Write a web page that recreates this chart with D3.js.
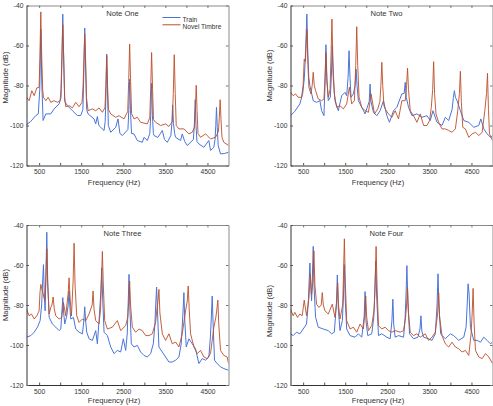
<!DOCTYPE html>
<html><head><meta charset="utf-8">
<script src="https://cdn.jsdelivr.net/npm/d3@7"></script>
<style>
body{margin:0;background:#fff}
svg{display:block}
text{font-family:"Liberation Sans",Arial,Helvetica,sans-serif;fill:#333}
</style>
</head><body>
<svg id="chart" width="493" height="406"></svg>
<script>
// ---- data (frequency in Hz, magnitude in dB) ----
const xDomain = [200, 5000];
const yDomain = [-120, -40];
const xTickValues = [500, 1000, 1500, 2000, 2500, 3000, 3500, 4000, 4500];
const xTickLabels = ["500", "", "1500", "", "2500", "", "3500", "", "4500"];
const yTickValues = [-120, -100, -80, -60, -40];
const yTickLabels = ["-120", "-100", "-80", "-60", "-40"];
const noteTitles = ["Note One", "Note Two", "Note Three", "Note Four"];
const seriesNames = ["Train", "Novel Timbre"];
const xLabel = "Frequency (Hz)";
const yLabel = "Magnitude (dB)";

const noteOneTrain = [[200,-99.5],[300,-98],[421,-95],[480,-94.2],[515,-82],[540,-51.8],[565,-80],[595,-97.5],[659,-94.2],[777,-94.2],[856,-91.7],[975,-89.2],[1020,-86],[1040,-70],[1062,-44.3],[1085,-68],[1110,-88],[1173,-90.1],[1291,-92.6],[1410,-95],[1489,-95],[1540,-92],[1562,-74],[1584,-51.3],[1606,-72],[1630,-92],[1663,-94.2],[1805,-96.7],[1845,-99.2],[1884,-95.5],[1920,-100],[1963,-100.9],[2043,-102.5],[2070,-98],[2088,-85],[2106,-64.3],[2124,-82],[2145,-100],[2201,-103.4],[2319,-100.9],[2375,-96.7],[2420,-104],[2478,-105],[2610,-102],[2632,-92],[2651,-76.9],[2670,-92],[2695,-104],[2754,-104.2],[2833,-107.5],[2952,-108.4],[2992,-105.9],[3071,-107.5],[3130,-104],[3152,-95],[3173,-78.9],[3192,-95],[3215,-104],[3229,-105],[3320,-106],[3427,-102.5],[3480,-107],[3545,-108.4],[3630,-105],[3655,-99],[3672,-89.7],[3692,-99],[3720,-104],[3743,-105.9],[3861,-107.5],[3901,-104.2],[3960,-108],[4020,-110],[4165,-107],[4190,-99],[4209,-87.1],[4228,-100],[4250,-108],[4296,-109.2],[4415,-110.9],[4533,-107.5],[4573,-112.5],[4652,-110.9],[4680,-107],[4698,-100],[4715,-90.9],[4733,-101],[4755,-110],[4810,-114.2],[4900,-114],[5000,-113.4]];
const noteOneNovel = [[200,-85.9],[263,-87.6],[327,-82.6],[382,-85.1],[445,-81.2],[500,-80.9],[518,-66],[540,-43.2],[562,-66],[585,-82],[603,-85.9],[659,-87.6],[714,-85.9],[777,-88.4],[856,-87.6],[935,-88.4],[1000,-87.6],[1020,-82],[1040,-66],[1062,-49.6],[1084,-66],[1105,-86],[1133,-90.6],[1212,-90.1],[1291,-91.2],[1370,-88.4],[1449,-90.6],[1520,-88.4],[1545,-80],[1562,-68],[1584,-54.3],[1606,-68],[1625,-86],[1663,-92.6],[1766,-91.7],[1845,-92.6],[1924,-91.2],[2003,-93.4],[2065,-91],[2086,-80],[2106,-65.1],[2126,-80],[2148,-92],[2201,-94.2],[2319,-95.9],[2398,-95.1],[2517,-96.7],[2605,-93],[2628,-78],[2651,-59.3],[2674,-78],[2698,-94],[2754,-96.7],[2833,-95.9],[2912,-98.4],[3071,-99.2],[3130,-96],[3150,-82],[3173,-63.5],[3196,-82],[3218,-97],[3268,-98.4],[3387,-100],[3506,-99.2],[3585,-100.5],[3665,-98],[3688,-84],[3711,-64.6],[3734,-84],[3758,-100],[3822,-101.7],[3941,-101.7],[4059,-104.2],[4138,-103.4],[4190,-101],[4212,-92],[4233,-79.9],[4254,-93],[4275,-104],[4336,-105.9],[4455,-104.2],[4573,-106.7],[4692,-105.9],[4760,-103],[4782,-96],[4802,-87.1],[4822,-97],[4845,-106],[4889,-108.4],[5000,-110]];

const noteTwoTrain = [[200,-95.1],[300,-93],[423,-89.2],[490,-84],[530,-76],[560,-62],[589,-44.3],[612,-64],[635,-76],[661,-80.1],[740,-87.6],[820,-88.4],[899,-87.6],[939,-92.6],[995,-95.1],[1020,-80],[1042,-59.6],[1064,-76],[1098,-87.6],[1146,-85.9],[1170,-76],[1193,-60.1],[1215,-76],[1257,-87.6],[1336,-92.6],[1416,-85.1],[1495,-83.4],[1535,-85.1],[1568,-76],[1591,-62.6],[1614,-76],[1638,-85.9],[1694,-84.2],[1735,-80],[1758,-71.8],[1781,-80],[1813,-87.6],[1893,-90.9],[1972,-94.2],[2070,-88],[2091,-79.3],[2112,-88],[2171,-93.4],[2250,-95.1],[2330,-92.6],[2409,-87.6],[2489,-95.1],[2552,-98.4],[2648,-92.6],[2727,-90.9],[2846,-84.2],[2900,-84],[2926,-78.4],[2952,-86],[3005,-90.9],[3085,-95.1],[3204,-94.2],[3323,-95.9],[3442,-95.1],[3522,-97.5],[3585,-92.6],[3681,-98.4],[3800,-100],[3879,-95.9],[3959,-97.5],[4040,-92],[4070,-86],[4094,-82.6],[4120,-86],[4158,-87.6],[4237,-92.6],[4317,-97.5],[4436,-98.4],[4555,-100.9],[4674,-100],[4722,-96.7],[4793,-101.7],[4873,-104.2],[4952,-105.9],[5000,-105]];
const noteTwoNovel = [[200,-83.4],[264,-85.1],[319,-84.2],[383,-85.9],[462,-85.9],[500,-80],[526,-66.8],[555,-68],[589,-51.8],[615,-70],[637,-80.9],[685,-84.2],[715,-80],[740,-73.4],[765,-80],[796,-82.6],[860,-86.7],[939,-87.6],[995,-86.7],[1020,-76],[1042,-63.5],[1064,-78],[1098,-85.9],[1140,-82],[1162,-66],[1185,-46.8],[1208,-68],[1241,-84.2],[1297,-90.9],[1376,-90.1],[1456,-91.7],[1535,-89.2],[1599,-80.9],[1654,-89.2],[1718,-87.6],[1750,-70],[1774,-50.6],[1798,-70],[1829,-85.9],[1893,-90.9],[1972,-92.6],[2052,-93.4],[2115,-84.2],[2195,-94.2],[2274,-91.7],[2325,-88],[2348,-80],[2370,-68.4],[2392,-80],[2420,-90],[2449,-91.7],[2528,-94.2],[2608,-95.9],[2687,-92.6],[2767,-96.7],[2846,-87.6],[2926,-87.6],[2958,-80],[2981,-71.3],[3004,-82],[3045,-92.6],[3124,-95.1],[3204,-98.4],[3283,-94.2],[3363,-100],[3442,-100],[3506,-97.5],[3546,-90.9],[3578,-82],[3601,-68.1],[3624,-84],[3657,-94.2],[3720,-98.4],[3800,-101.7],[3879,-101.7],[3959,-102.5],[4038,-103.4],[4118,-101.7],[4174,-92.6],[4214,-84],[4237,-72.9],[4260,-88],[4293,-100.9],[4356,-101.7],[4436,-105.9],[4515,-104.2],[4595,-103.4],[4674,-105],[4754,-103.4],[4817,-92.6],[4858,-84],[4881,-73.9],[4904,-92],[4928,-104.2],[5000,-107.5]];

const noteThreeTrain = [[200,-96.1],[303,-95.3],[382,-93.6],[461,-91.1],[524,-87.8],[560,-80],[580,-70],[603,-59.8],[625,-76],[643,-82.9],[660,-66],[682,-43.6],[704,-68],[738,-86.2],[817,-89.5],[896,-91.1],[975,-92.8],[1015,-92],[1040,-84],[1062,-76.3],[1084,-84],[1109,-89.5],[1157,-85.4],[1190,-80],[1212,-73],[1234,-82],[1252,-87],[1315,-86.2],[1370,-92],[1449,-93.6],[1529,-94.4],[1562,-88],[1584,-80.9],[1606,-88],[1631,-93.6],[1687,-96.9],[1766,-97.7],[1845,-92.8],[1884,-99.4],[1924,-87.8],[1965,-74],[1987,-61.4],[2009,-76],[2043,-93.6],[2122,-95.3],[2201,-101],[2280,-104.3],[2359,-102.7],[2438,-103.5],[2501,-96.9],[2557,-102.7],[2595,-94],[2615,-80],[2636,-64.7],[2657,-82],[2691,-99.4],[2754,-101],[2833,-100.2],[2912,-103.5],[2992,-105.2],[3071,-106],[3150,-104.3],[3213,-99.4],[3250,-90],[3270,-80],[3292,-71],[3314,-84],[3347,-101],[3427,-103.5],[3506,-106],[3585,-108.5],[3664,-108.5],[3743,-107.6],[3822,-106],[3877,-99.4],[3918,-84],[3940,-73.8],[3962,-88],[3996,-101],[4059,-96.9],[4138,-99.4],[4217,-101.9],[4296,-109.3],[4375,-106.8],[4455,-107.6],[4533,-106],[4570,-96],[4592,-86],[4613,-75.5],[4635,-90],[4668,-107.6],[4731,-109.3],[4810,-110.9],[4889,-111.8],[5000,-112.6]];
const noteThreeNovel = [[200,-82.1],[263,-85.4],[319,-84.5],[382,-87],[445,-85.4],[500,-82.9],[520,-74],[540,-69.7],[587,-73.8],[635,-77.9],[660,-68],[682,-51.9],[704,-70],[738,-84.5],[777,-81.2],[805,-80],[833,-76],[860,-82],[896,-85.4],[975,-87],[1038,-86.2],[1078,-78.8],[1133,-85.4],[1190,-74],[1212,-66.4],[1234,-76],[1268,-85.4],[1308,-68],[1331,-49.1],[1354,-70],[1394,-85.4],[1449,-88.7],[1529,-87],[1608,-87.8],[1687,-84.5],[1760,-80],[1782,-73],[1804,-82],[1845,-87.8],[1924,-89.5],[1960,-82],[1981,-68],[2003,-53.2],[2025,-70],[2058,-87.8],[2122,-92],[2240,-91.1],[2359,-87.8],[2438,-92.8],[2557,-90.3],[2607,-86],[2629,-78],[2651,-68],[2673,-80],[2715,-91.1],[2794,-93.6],[2873,-92],[2952,-92.8],[3031,-95.3],[3110,-95.3],[3189,-94.4],[3268,-88.7],[3300,-82],[3325,-78],[3347,-72.2],[3370,-84],[3427,-94.4],[3506,-97.7],[3585,-94.4],[3664,-99.4],[3743,-98.5],[3822,-101],[3901,-94.4],[3980,-82.9],[4020,-78],[4043,-70.5],[4066,-82],[4099,-94.4],[4178,-101],[4257,-104.3],[4336,-102.7],[4415,-106],[4494,-106.8],[4573,-104.3],[4652,-91.1],[4700,-86],[4725,-82],[4747,-77.6],[4770,-90],[4810,-102.7],[4889,-105.2],[4968,-106],[5000,-109.3]];

const noteFourTrain = [[200,-94.4],[264,-95.3],[343,-93.6],[423,-94.4],[502,-92],[581,-89.5],[621,-79.6],[661,-59],[690,-74],[701,-77.9],[720,-66],[740,-50.7],[762,-72],[796,-86.2],[860,-91.1],[979,-92],[1098,-92.8],[1177,-94.4],[1241,-93.6],[1290,-80],[1313,-65],[1336,-82],[1376,-92.8],[1432,-87.8],[1458,-76],[1480,-59.8],[1502,-78],[1535,-92],[1615,-95.3],[1734,-96.1],[1813,-94.4],[1893,-96.1],[1950,-86],[1972,-73.3],[1994,-88],[2036,-95.3],[2131,-94.4],[2180,-86],[2204,-74],[2226,-58.1],[2248,-76],[2290,-95.3],[2370,-94.4],[2489,-96.1],[2568,-96.9],[2610,-88],[2632,-77.1],[2654,-90],[2687,-96.1],[2767,-95.3],[2886,-96.1],[2920,-88],[2944,-76],[2966,-60.3],[2988,-78],[3029,-94.4],[3124,-96.9],[3228,-96.1],[3277,-92],[3299,-85.4],[3321,-93],[3363,-96.1],[3482,-96.9],[3562,-97.7],[3641,-94.4],[3683,-80],[3705,-64.4],[3727,-80],[3768,-94.4],[3879,-96.9],[3999,-94.4],[4078,-95.3],[4197,-97.7],[4317,-96.1],[4372,-91.1],[4398,-80],[4420,-69.4],[4442,-74],[4476,-91.1],[4555,-97.7],[4634,-97.7],[4714,-98.6],[4793,-96.1],[4873,-97.7],[4952,-99.4],[5000,-98.6]];
const noteFourNovel = [[200,-82.1],[264,-85.4],[303,-83.7],[367,-86.2],[423,-84.5],[478,-85.4],[526,-77.6],[581,-85.4],[640,-76],[669,-64.7],[700,-75],[733,-68],[756,-52.9],[780,-70],[820,-79.6],[876,-81.2],[930,-80],[955,-73.8],[980,-80],[1019,-82.9],[1098,-84.5],[1193,-79.6],[1257,-86.2],[1300,-78],[1321,-68.9],[1342,-80],[1376,-87],[1440,-80],[1460,-64],[1480,-46.9],[1502,-68],[1535,-87.8],[1615,-92],[1694,-91.1],[1774,-93.6],[1853,-89.5],[1932,-92],[1966,-84],[1988,-75.5],[2010,-86],[2052,-92.8],[2131,-90.3],[2188,-82],[2212,-68],[2234,-50.7],[2256,-70],[2290,-90.3],[2370,-92],[2449,-91.1],[2528,-92.8],[2608,-93.6],[2687,-92.8],[2807,-93.6],[2886,-92.8],[2935,-86],[2959,-80],[2981,-71],[3003,-84],[3045,-93.6],[3124,-95.3],[3204,-94.4],[3283,-96.1],[3403,-94.4],[3482,-97.7],[3562,-96.1],[3641,-93.6],[3698,-84],[3720,-73.8],[3742,-86],[3800,-95.3],[3879,-99.4],[3959,-101],[4038,-98.6],[4118,-101],[4197,-101.9],[4277,-103.5],[4356,-102.7],[4436,-105.2],[4491,-94.4],[4517,-84],[4539,-71.7],[4561,-88],[4595,-102.7],[4674,-106],[4754,-106.8],[4833,-104.3],[4913,-106],[5000,-109.3]];

// ---- layout / style ----
const colors = {train: "#4a74d8", novel: "#bd4f29"};
const W = 202, H = 160;
const panels = [
  {title: noteTitles[0], train: noteOneTrain, novel: noteOneNovel, left: 26, top: 5, ylabCy: 72, legend: true},
  {title: noteTitles[1], train: noteTwoTrain, novel: noteTwoNovel, left: 290, top: 5, ylabCy: 70, legend: false},
  {title: noteTitles[2], train: noteThreeTrain, novel: noteThreeNovel, left: 26, top: 224.5, ylabCy: 70, legend: false},
  {title: noteTitles[3], train: noteFourTrain, novel: noteFourNovel, left: 290, top: 224.5, ylabCy: 86, legend: false}
];

const svg = d3.select("#chart");
const x = d3.scaleLinear().domain(xDomain).range([0, W]);
const y = d3.scaleLinear().domain(yDomain).range([H, 0]);
const line = d3.line().x(d => x(d[0])).y(d => y(d[1]));

panels.forEach((p, idx) => {
  const g = svg.append("g").attr("transform", `translate(${p.left + 0.5},${p.top + 0.5})`);
  const clipId = "clip" + idx;
  g.append("clipPath").attr("id", clipId).append("rect").attr("width", W).attr("height", H);

  const lines = g.append("g").attr("clip-path", `url(#${clipId})`);
  lines.append("path").datum(p.train).attr("d", line)
    .attr("fill", "none").attr("stroke", colors.train).attr("stroke-width", 1);
  lines.append("path").datum(p.novel).attr("d", line)
    .attr("fill", "none").attr("stroke", colors.novel).attr("stroke-width", 1).attr("stroke-opacity", 0.9);

  const xb = g.append("g").attr("transform", `translate(0,${H})`)
    .call(d3.axisBottom(x).tickValues(xTickValues).tickSizeInner(-2.5).tickSizeOuter(0).tickPadding(4)
      .tickFormat((d, i) => xTickLabels[i]));
  const xt = g.append("g")
    .call(d3.axisTop(x).tickValues(xTickValues).tickSizeInner(-2.5).tickSizeOuter(0).tickFormat(""));
  const yl = g.append("g")
    .call(d3.axisLeft(y).tickValues(yTickValues).tickSizeInner(-2.5).tickSizeOuter(0).tickPadding(3)
      .tickFormat((d, i) => yTickLabels[i]));
  const yr = g.append("g").attr("transform", `translate(${W},0)`)
    .call(d3.axisRight(y).tickValues(yTickValues).tickSizeInner(-2.5).tickSizeOuter(0).tickFormat(""));

  [xb, yl].forEach(a => { a.select(".domain").attr("stroke", "#333"); a.selectAll(".tick line").attr("stroke", "#555"); });
  [xt, yr].forEach(a => { a.select(".domain").attr("stroke", "#8a8a8a"); a.selectAll(".tick line").attr("stroke", "#777"); });
  g.selectAll(".tick text").style("font-size", "6.7px").attr("fill", "#333")
    .style("font-family", '"Liberation Sans", Arial, sans-serif');

  g.append("text").attr("x", 96).attr("y", 10.5).attr("text-anchor", "middle")
    .style("font-size", "7.6px").text(p.title);
  g.append("text").attr("x", 87.5).attr("y", H + (p.top > 100 ? 18.3 : 19)).attr("text-anchor", "middle")
    .style("font-size", "7.6px").text(xLabel);
  g.append("text").attr("transform", `translate(-19,${p.ylabCy}) rotate(-90)`)
    .attr("text-anchor", "middle").style("font-size", "7.6px").text(yLabel);

  if (p.legend) {
    seriesNames.forEach((name, i) => {
      const yy = 12 + i * 7.3;
      g.append("line").attr("x1", 136).attr("x2", 154).attr("y1", yy).attr("y2", yy)
        .attr("stroke", i === 0 ? colors.train : colors.novel).attr("stroke-width", 1);
      g.append("text").attr("x", 156).attr("y", yy + 4.4).style("font-size", "6.6px").text(name);
    });
  }
});
</script>
</body></html>
